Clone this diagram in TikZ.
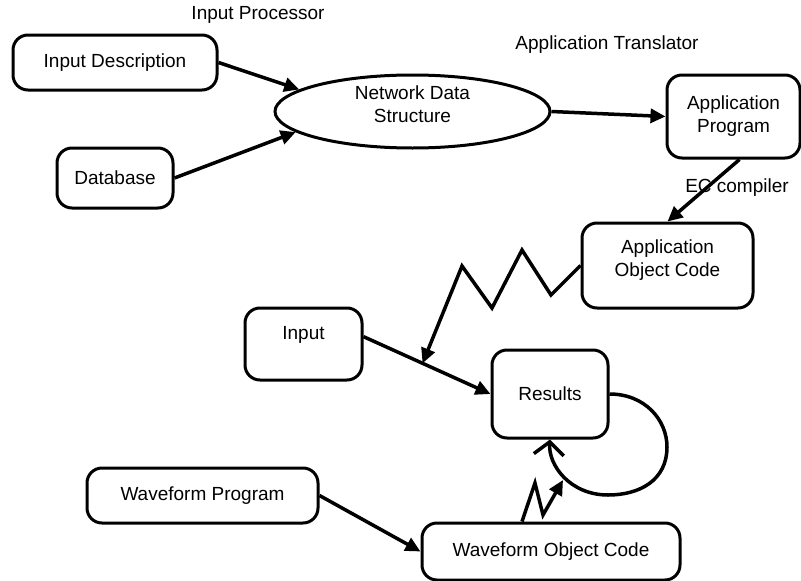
\documentclass[tikz,border=0pt]{standalone}
\usepackage{fontspec}
\setmainfont{Liberation Sans}
\usetikzlibrary{arrows.meta}
\usetikzlibrary{calc}
\usetikzlibrary{shapes.geometric}
\tikzset{
	boxstyle/.style={rectangle,rounded corners=15pt,draw=black,line width=3pt,fill=white,inner sep=0pt,align=center},
	ovalstyle/.style={ellipse,draw=black,line width=3pt,fill=white,inner sep=0pt,align=center},
	labelstyle/.style={rectangle,inner sep=0pt},
	flowstyle/.style={line width=3.5pt,-{Triangle[length=15pt,width=14pt]}},
	loopstyle/.style={line width=3.5pt,-{Straight Barb[length=13pt,width=30pt]}}
}

\begin{document}
\begin{tikzpicture}[x=1pt,y=-1pt]
		\fontsize{19}{23}\selectfont
		\useasboundingbox (0,0) rectangle (801,581);
		\node[labelstyle] (inproc) at (258,15) {Input Processor};
		\node[labelstyle] (apptrans) at (607,45) {Application Translator};
		\node[boxstyle,minimum width=204pt,minimum height=55pt] (indesc) at (115,62.5) {Input Description};
		\node[boxstyle,minimum width=116pt,minimum height=60pt] (database) at (115,178) {Database};
		\node[ovalstyle,minimum width=275pt,minimum height=73pt,text depth=14pt] (netdata) at (412.5,111.5) {Network Data\\Structure};
		\node[boxstyle,minimum width=133pt,minimum height=83pt] (appprog) at (733.5,116.5) {Application\\Program};
		\node[labelstyle] (eccomp) at (737,188) {EC compiler};
		\node[boxstyle,minimum width=171pt,minimum height=85pt,text depth=15pt] (appobj) at (667.5,265.5) {Application\\Object Code};
		\node[boxstyle,minimum width=117pt,minimum height=72pt,text depth=22pt] (input) at (303.5,344) {Input};
		\node[boxstyle,minimum width=116pt,minimum height=88pt] (results) at (550,394) {Results};
		\node[boxstyle,minimum width=231pt,minimum height=55pt] (wfprog) at (202.5,495.5) {Waveform Program};
		\node[boxstyle,minimum width=258pt,minimum height=57pt] (wfobj) at (551,551.5) {Waveform Object Code};
		\coordinate (tap) at ($(input.7)!0.465!(results.west)$);
		\coordinate (wftip) at (563,480);
		\draw[flowstyle] (indesc.east)--(netdata.169);
		\draw[flowstyle] (database.east)--(netdata.190);
		\draw[flowstyle] (netdata.east)--(appprog.west);
		\draw[flowstyle] ([xshift=6pt]appprog.south)--(appobj.north);
		\draw[flowstyle] (appobj.west)--(551,295)--(522,250)--(492,308)--(462,266)--(tap);
		\draw[flowstyle] (input.7)--(results.west);
		\draw[flowstyle] (wfprog.east)--(wfobj.west);
		\draw[flowstyle] ([xshift=-29pt]wfobj.north)--(535,483)--(543,515)--(wftip);
		\draw[loopstyle] (results.east) .. controls (645,394) and (667,420) .. (667,447) .. controls (667,480) and (640,495) .. (608,495) .. controls (570,495) and (548,465) .. (results.south);
\end{tikzpicture}
\end{document}
